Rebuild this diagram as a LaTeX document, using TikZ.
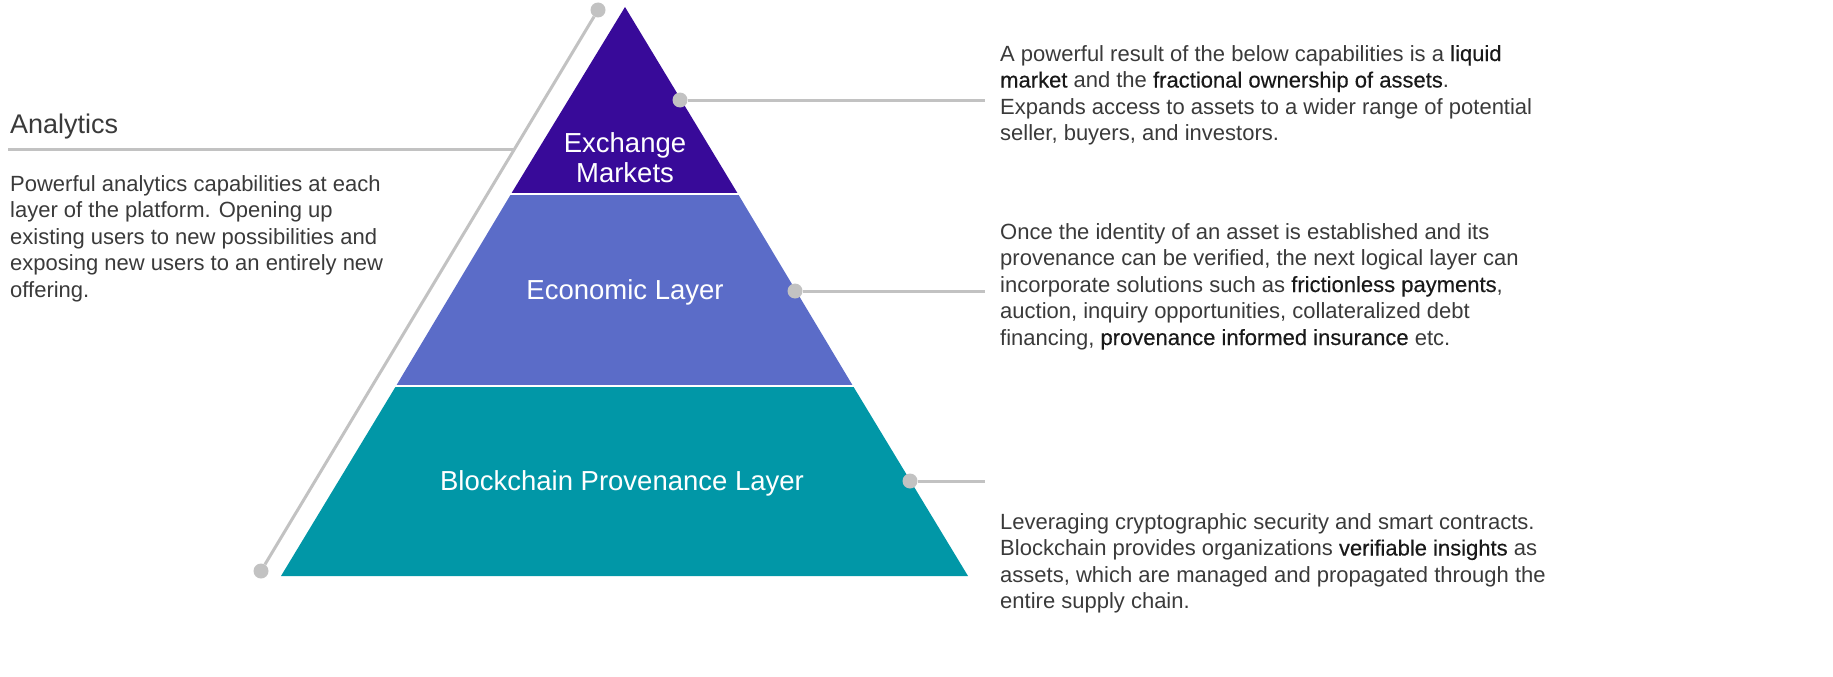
\documentclass[tikz,border=0pt]{standalone}
\usepackage{fontspec}
\setmainfont{Liberation Sans}
\newfontfamily\keyfont[FakeBold=0.4]{Liberation Sans}
\usetikzlibrary{positioning}
\definecolor{exchcol}{HTML}{380A99}
\definecolor{econcol}{HTML}{5B6CC8}
\definecolor{chaincol}{HTML}{0197A7}
\definecolor{leadcol}{HTML}{C2C2C2}
\definecolor{txtcol}{HTML}{3A3A3A}
\newcommand{\keyword}[1]{{\keyfont\color{black!90}#1}}

\begin{document}
\begin{tikzpicture}[x=1pt,y=-1pt,
    lead/.style={draw=leadcol,line width=3pt},
    dot/.style={circle,fill=leadcol,inner sep=0pt,minimum size=15pt},
    layer/.style={text=white,font=\fontsize{27.5}{30}\selectfont,align=center},
    desc/.style={anchor=base west,align=left,text=txtcol,inner sep=0pt,
      font=\fontsize{22}{26.5}\selectfont}]
  \useasboundingbox (0,0) rectangle (1833,677);
  % layers
  \fill[exchcol] (625,7) -- (738,194) -- (511,194) -- cycle;
  \fill[econcol] (511,194) -- (738,194) -- (853,386) -- (396,386) -- cycle;
  \fill[chaincol] (396,386) -- (853,386) -- (968,576) -- (281,576) -- cycle;
  \draw[white,line width=2.5pt] (505,194) -- (745,194);
  \draw[white,line width=2.5pt] (390,386) -- (860,386);
  \node[layer] (exch) at (625,158) {Exchange\\Markets};
  \node[layer] (econ) at (625,292) {Economic Layer};
  \node[layer] (chain) at (622,483) {Blockchain Provenance Layer};
  % analytics
  \node[dot] (atop) at (598,10) {};
  \node[dot] (abot) at (261,571) {};
  \coordinate (aleft) at (8,149);
  \coordinate (ajoin) at (514.5,149);
  \draw[lead] (atop) -- (abot);
  \draw[lead] (aleft) -- (ajoin);
  \node[anchor=base west,inner sep=0pt,text=txtcol,font=\fontsize{27}{30}\selectfont]
    (anatitle) at (10,133) {Analytics};
  \node[desc] (anatext) at (10,297) {Powerful analytics capabilities at each\\
    layer of the platform. Opening up\\
    existing users to new possibilities and\\
    exposing new users to an entirely new\\
    offering.};
  % leaders
  \node[dot] (d1) at (680,100) {};
  \node[dot] (d2) at (795,291) {};
  \node[dot] (d3) at (910,481) {};
  \coordinate (e1) at (985,100);
  \coordinate (e2) at (985,291);
  \coordinate (e3) at (985,481);
  \draw[lead] (d1) -- (e1);
  \draw[lead] (d2) -- (e2);
  \draw[lead] (d3) -- (e3);
  % descriptions
  \node[desc] (exchtext) at (1000,140.5) {A powerful result of the below capabilities is a \keyword{liquid}\\
    \keyword{market} and the \keyword{fractional ownership of assets}.\\
    Expands access to assets to a wider range of potential\\
    seller, buyers, and investors.};
  \node[desc] (econtext) at (1000,345) {Once the identity of an asset is established and its\\
    provenance can be verified, the next logical layer can\\
    incorporate solutions such as \keyword{frictionless payments},\\
    auction, inquiry opportunities, collateralized debt\\
    financing, \keyword{provenance informed insurance} etc.};
  \node[desc] (chaintext) at (1000,608.5) {Leveraging cryptographic security and smart contracts.\\
    Blockchain provides organizations \keyword{verifiable insights} as\\
    assets, which are managed and propagated through the\\
    entire supply chain.};
\end{tikzpicture}
\end{document}
